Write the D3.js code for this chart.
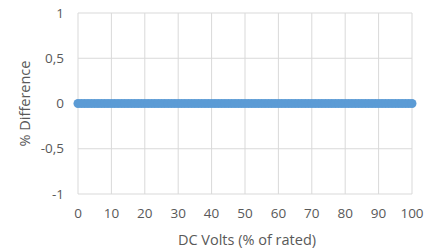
<!DOCTYPE html>
<html>
<head>
<meta charset="utf-8">
<script src="https://cdn.jsdelivr.net/npm/d3@7"></script>
<style>
  body { margin: 0; background: #fff; }
  text { font-family: "Open Sans", "Noto Sans", sans-serif; fill: #595959; }
</style>
</head>
<body>
<svg width="439" height="250"></svg>
<script>
// DC volts (% of rated)
const volts = [0, 1, 2, 3, 4, 5, 6, 7, 8, 9, 10, 11, 12, 13, 14, 15, 16, 17, 18, 19,
  20, 21, 22, 23, 24, 25, 26, 27, 28, 29, 30, 31, 32, 33, 34, 35, 36, 37, 38, 39,
  40, 41, 42, 43, 44, 45, 46, 47, 48, 49, 50, 51, 52, 53, 54, 55, 56, 57, 58, 59,
  60, 61, 62, 63, 64, 65, 66, 67, 68, 69, 70, 71, 72, 73, 74, 75, 76, 77, 78, 79,
  80, 81, 82, 83, 84, 85, 86, 87, 88, 89, 90, 91, 92, 93, 94, 95, 96, 97, 98, 99, 100]
// % difference, all zero
const diff = [0, 0, 0, 0, 0, 0, 0, 0, 0, 0, 0, 0, 0, 0, 0, 0, 0, 0, 0, 0,
  0, 0, 0, 0, 0, 0, 0, 0, 0, 0, 0, 0, 0, 0, 0, 0, 0, 0, 0, 0,
  0, 0, 0, 0, 0, 0, 0, 0, 0, 0, 0, 0, 0, 0, 0, 0, 0, 0, 0, 0,
  0, 0, 0, 0, 0, 0, 0, 0, 0, 0, 0, 0, 0, 0, 0, 0, 0, 0, 0, 0,
  0, 0, 0, 0, 0, 0, 0, 0, 0, 0, 0, 0, 0, 0, 0, 0, 0, 0, 0, 0, 0]
const xTicks = [0, 10, 20, 30, 40, 50, 60, 70, 80, 90, 100]
const yTicks = [-1, -0.5, 0, 0.5, 1]

const svg = d3.select('svg')
const x = d3.scaleLinear().domain([0, 100]).range([78, 412])
const y = d3.scaleLinear().domain([-1, 1]).range([194, 13])

const fmt = d => String(d).replace('.', ',')

// grid
svg.append('g')
  .selectAll('line')
  .data(xTicks)
  .enter()
  .append('line')
  .attr('x1', d => x(d)).attr('x2', d => x(d))
  .attr('y1', y(1)).attr('y2', y(-1))
  .attr('stroke', '#d9d9d9')

svg.append('g')
  .selectAll('line')
  .data(yTicks)
  .enter()
  .append('line')
  .attr('x1', x(0)).attr('x2', x(100))
  .attr('y1', d => y(d)).attr('y2', d => y(d))
  .attr('stroke', '#d9d9d9')

// tick labels
svg.append('g')
  .selectAll('text')
  .data(xTicks)
  .enter()
  .append('text')
  .attr('x', d => x(d))
  .attr('y', 218)
  .attr('text-anchor', 'middle')
  .attr('font-size', 13.5)
  .text(d => d)

svg.append('g')
  .selectAll('text')
  .data(yTicks)
  .enter()
  .append('text')
  .attr('x', 64)
  .attr('y', d => y(d) + 4.5)
  .attr('text-anchor', 'end')
  .attr('font-size', 13.5)
  .text(fmt)

// axis titles
svg.append('text')
  .attr('x', 247)
  .attr('y', 245)
  .attr('text-anchor', 'middle')
  .attr('font-size', 14.5)
  .text('DC Volts (% of rated)')

svg.append('text')
  .attr('transform', `translate(30, ${y(0)}) rotate(-90)`)
  .attr('text-anchor', 'middle')
  .attr('font-size', 14.5)
  .text('% Difference')

// points
svg.append('g')
  .selectAll('circle')
  .data(volts)
  .enter()
  .append('circle')
  .attr('cx', d => x(d))
  .attr('cy', (d, i) => y(diff[i]))
  .attr('r', 4.5)
  .attr('fill', '#5b9bd5')
</script>
</body>
</html>
